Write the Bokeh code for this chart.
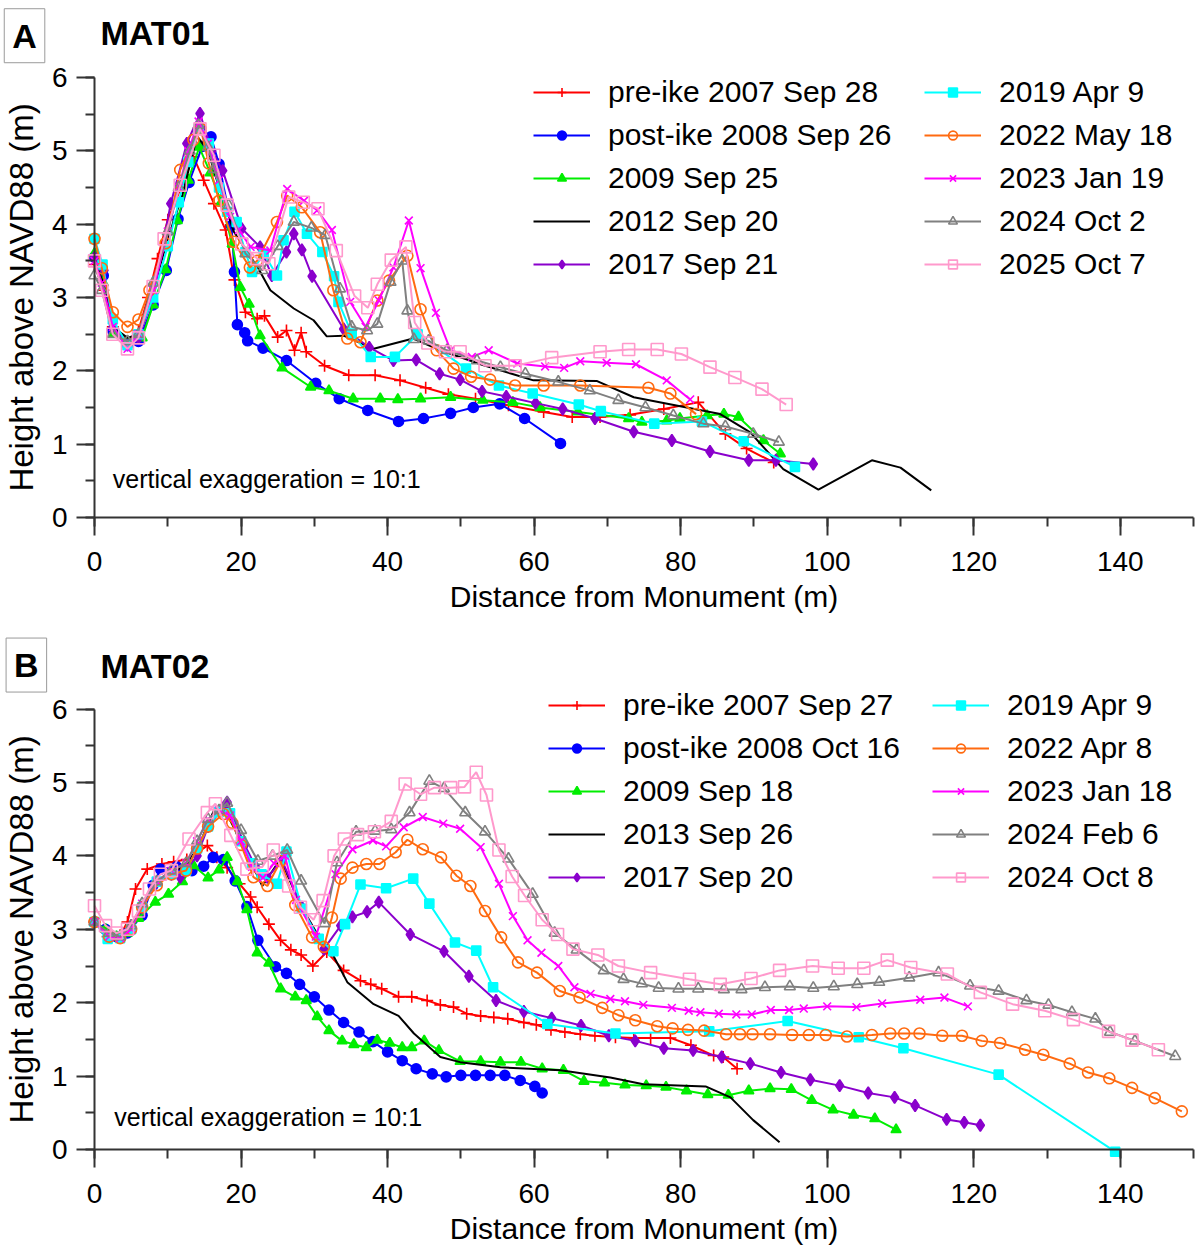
from bokeh.plotting import figure
from bokeh.models import Range1d, Legend, LegendItem, Label
from bokeh.layouts import column
from bokeh.embed import file_html
from bokeh.resources import INLINE

FONT = "Liberation Sans"

# ---------------- Panel A : MAT01 ----------------
A_labels = ["pre-ike 2007 Sep 28", "post-ike 2008 Sep 26", "2009 Sep 25", "2012 Sep 20",
            "2017 Sep 21", "2019 Apr 9", "2022 May 18", "2023 Jan 19", "2024 Oct 2", "2025 Oct 7"]

A_red = [(0,3.45),(1.2,3.1),(2.5,2.6),(4.5,2.4),(6,2.55),(7.3,3.0),(8.6,3.53),(10,4.06),(11.8,4.5),
         (13.5,4.92),(14.9,4.6),(16.3,4.28),(17.9,3.92),(19.1,3.24),(20.6,2.8),(22.2,2.71),(23.2,2.75),
         (25,2.46),(26.2,2.55),(27.3,2.28),(28.2,2.52),(28.9,2.26),(31.4,2.07),(34.7,1.94),(38.3,1.94),
         (41.7,1.87),(45.2,1.77),(48.3,1.68),(52,1.62),(56.5,1.53),(61.3,1.44),(65.2,1.37),(69,1.37),
         (73.1,1.4),(77.7,1.48),(82.4,1.57),(86.1,1.14),(89,0.94),(92.7,0.75)]
A_blue = [(0,3.55),(1.2,3.3),(2.5,2.55),(4.5,2.35),(6,2.4),(8,2.9),(9.8,3.37),(11.4,4.07),(12.9,4.57),
          (14.7,5.06),(15.9,5.19),(17,4.82),(18.7,3.98),(19.1,3.35),(19.5,2.63),(20.5,2.52),(20.9,2.41),
          (23,2.31),(26.2,2.14),(30.2,1.83),(33.4,1.62),(37.3,1.46),(41.5,1.31),(44.9,1.35),(48.6,1.42),
          (51.7,1.5),(55.3,1.55),(58.7,1.35),(63.6,1.01)]
A_green = [(0,3.6),(1.2,3.2),(2.5,2.5),(4.5,2.4),(6.5,2.45),(8,2.9),(9.7,3.38),(11.3,4.05),(12.8,4.6),
           (14.3,5.05),(15.8,4.7),(17.3,4.3),(18.8,3.73),(19.9,3.14),(21.1,2.91),(22.6,2.48),(25.6,2.04),
           (29.5,1.78),(32,1.73),(35.3,1.62),(39,1.62),(41.4,1.61),(44.5,1.62),(48.6,1.64),(53,1.6),
           (57.1,1.57),(60.8,1.5),(66,1.44),(72.9,1.35),(74.7,1.3),(78.1,1.32),(79.9,1.35),(83.6,1.39),
           (85.9,1.41),(87.9,1.37),(91.3,1.05),(93.6,0.87)]
A_black = [(0,3.5),(1.2,3.2),(2.5,2.6),(4.5,2.45),(6,2.5),(8,3.1),(10,3.8),(12,4.4),(14,5.2),(15.5,5.0),
           (17,4.5),(19,3.9),(21,3.6),(22.4,3.39),(24,3.1),(27.2,2.85),(29.9,2.69),(31.7,2.47),(34,2.48),
           (38.1,2.3),(43.5,2.44),(47.2,2.28),(53,2.08),(59.9,1.87),(68.6,1.86),(73.6,1.64),(85.4,1.41),
           (89.5,1.16),(94,0.66),(98.8,0.38),(106.1,0.78),(110,0.68),(114.2,0.37)]
A_purple = [(0,3.55),(1.3,3.37),(2.5,2.6),(4.5,2.35),(6,2.45),(8,3.0),(10.4,4.28),(12.6,5.1),(14.4,5.51),
            (16,5.0),(17.5,4.73),(20.1,3.94),(22.6,3.69),(24.2,3.3),(26.2,3.62),(27.2,3.87),(28.3,3.65),
            (29.7,3.29),(34,2.57),(37.5,2.32),(40.8,2.14),(43.9,2.15),(47.1,1.96),(49.9,1.88),(52.9,1.72),
            (56.2,1.65),(60.2,1.56),(63.9,1.48),(68.3,1.35),(73.6,1.17),(78.8,1.05),(84,0.9),(89.3,0.78),
            (93,0.78),(98.1,0.73)]
A_cyan = [(0,3.8),(1.1,3.45),(2.5,2.7),(4.5,2.35),(6,2.5),(8,3.0),(10,3.7),(11.5,4.3),(12.8,4.85),
          (14.2,5.3),(15.6,5.1),(17,4.5),(18.1,4.17),(19.4,4.03),(20.6,3.62),(21.5,3.35),(23.1,3.6),
          (24.9,3.3),(25.8,3.78),(27.3,4.17),(29,3.87),(31.1,3.62),(32.7,3.29),(33.3,2.94),(35.1,2.51),
          (37.7,2.19),(41,2.19),(44.1,2.5),(50.7,2.03),(55.2,1.8),(59.8,1.69),(66.1,1.54),(69.1,1.45),
          (76.4,1.28),(82.9,1.31),(88.6,1.04),(95.6,0.69)]
A_orange = [(0,3.8),(1,3.4),(2.5,2.8),(4.5,2.6),(6,2.7),(7.5,3.1),(9.7,3.74),(11.7,4.74),(13.5,5.15),
            (14.5,5.3),(15.6,4.83),(17,4.32),(19,3.76),(21.2,3.41),(22.2,3.5),(24.9,4.03),(26.3,4.39),
            (28.3,4.23),(30.8,3.89),(32.6,3.1),(34.5,2.44),(36.3,2.39),(38.6,2.96),(40.2,3.23),(42.7,3.57),
            (44.5,2.84),(46.7,2.28),(49,2.03),(51.4,1.92),(54,1.88),(57.4,1.8),(61.3,1.8),(66.3,1.8),
            (75.6,1.77),(78.6,1.69),(82.1,1.41)]
A_magenta = [(0,3.5),(1,3.2),(2.5,2.6),(4.5,2.3),(6,2.5),(8,3.1),(10,3.9),(11.5,4.5),(12.8,5.0),(14.2,5.4),
             (15.5,5.1),(17,4.6),(18.5,4.1),(19.7,3.92),(21.3,3.69),(24,3.64),(26.3,4.48),(28.6,4.32),
             (30.4,4.19),(32.4,3.92),(34.9,2.94),(37,2.6),(38.8,2.96),(40.8,3.41),(42.9,4.05),(44.5,3.4),
             (46.6,2.79),(48.6,2.28),(51.5,2.19),(53.8,2.28),(57.7,2.1),(61.5,2.06),(64.1,2.04),(66.3,2.13),
             (69.9,2.11),(73.9,2.09),(78.1,1.87),(81.3,1.61)]
A_gray = [(0,3.3),(1,3.1),(2.5,2.5),(4.5,2.4),(6,2.5),(8,3.2),(10,3.9),(11.5,4.5),(13,5.0),(14.2,5.35),
          (15.5,5.05),(16.3,4.75),(18.3,4.26),(20.6,3.6),(22.9,3.37),(25,3.7),(27.2,4.03),(29.6,3.95),
          (31.5,3.85),(33.5,3.12),(35.1,2.6),(37.2,2.55),(38.6,2.64),(40.4,3.21),(42,3.5),(42.7,2.82),
          (43.6,2.43),(45.6,2.41),(48.1,2.28),(52.2,2.14),(55.4,2.05),(58.8,1.96),(63.3,1.85),(67.6,1.73),
          (71.5,1.6),(75.2,1.5),(79,1.39),(83.1,1.28),(86.1,1.24),(89.9,1.14),(93.4,1.03)]
A_pink = [(0,3.5),(1,3.1),(2.5,2.5),(4.5,2.3),(6,2.45),(8,3.15),(9.5,3.8),(11.7,4.53),(14.4,5.3),
          (16.3,4.94),(18.1,4.26),(20.1,3.73),(22.2,3.53),(23.8,3.46),(26.5,4.37),(28.5,4.3),(30.5,4.21),
          (33,3.64),(35.5,3.02),(37.3,2.86),(38.6,3.18),(40.5,3.51),(42.5,3.69),(43.7,2.66),(45.5,2.38),
          (47.9,2.26),(49.9,2.26),(53.3,2.07),(57.4,2.07),(62.4,2.18),(69,2.26),(72.9,2.29),(76.8,2.29),
          (80.1,2.23),(84,2.05),(87.4,1.91),(91.1,1.75),(94.4,1.54)]

# ---------------- Panel B : MAT02 ----------------
B_labels = ["pre-ike 2007 Sep 27", "post-ike 2008 Oct 16", "2009 Sep 18", "2013 Sep 26",
            "2017 Sep 20", "2019 Apr 9", "2022 Apr 8", "2023 Jan 18", "2024 Feb 6", "2024 Oct 8"]

B_red = [(0,3.1),(1.8,2.9),(3.5,2.92),(4.5,3.1),(5.6,3.55),(7.2,3.82),(9.2,3.89),(10.8,3.92),(12.6,3.95),
         (15.4,4.14),(16.7,3.98),(18.1,3.84),(19.8,3.62),(21.3,3.44),(22.2,3.3),(23.8,3.07),(25.4,2.85),
         (26.8,2.72),(28.2,2.65),(29.8,2.5),(31.7,2.69),(34,2.44),(36.3,2.3),(37.7,2.25),(39.2,2.19),
         (41.5,2.08),(43.3,2.08),(45.4,2.03),(47.2,1.97),(49,1.94),(50.8,1.85),(52.7,1.82),(54.5,1.8),
         (56.4,1.78),(58.6,1.73),(60.3,1.7),(62.3,1.63),(64.2,1.6),(66.3,1.57),(68.3,1.55),(71.1,1.53),
         (73.6,1.52),(75.9,1.52),(78.6,1.52),(81.4,1.42),(84.5,1.28),(85.8,1.26),(87.7,1.1)]
B_blue = [(0,3.1),(1.5,3.0),(3,2.9),(4.5,2.95),(6.5,3.19),(8,3.6),(9,3.82),(11.2,3.85),(13.3,3.8),
          (14.9,3.86),(16.2,3.98),(17.6,3.95),(19.2,3.66),(20.8,3.31),(22.3,2.85),(24.7,2.49),(26.2,2.4),
          (28,2.25),(30,2.08),(32,1.9),(34,1.73),(36.1,1.6),(38,1.47),(40,1.33),(42,1.21),(43.9,1.1),
          (46.1,1.03),(48,0.99),(50,1.01),(52,1.01),(54,1.01),(56,1.01),(58.1,0.94),(60.1,0.86),(61.1,0.77)]
B_green = [(0,3.1),(1.5,3.0),(3,2.9),(4.5,2.95),(6,3.15),(8.3,3.37),(10.1,3.48),(12,3.65),(13.5,3.87),
           (15.5,3.7),(17,3.81),(18.1,3.98),(19.5,3.65),(20.8,3.27),(22.2,2.68),(23.8,2.54),(25.4,2.19),
           (27.4,2.08),(28.9,2.03),(30.4,1.81),(32,1.62),(33.8,1.48),(35.4,1.43),(37.1,1.39),(38.6,1.49),
           (40.3,1.45),(42,1.39),(43.3,1.39),(45,1.48),(47,1.35),(49.9,1.2),(52.7,1.2),(55.4,1.19),
           (58.2,1.19),(61.1,1.1),(64,1.08),(66.8,0.93),(69.6,0.91),(72.4,0.88),(75.3,0.87),(78,0.85),
           (80.8,0.8),(83.7,0.75),(86.5,0.74),(89.3,0.8),(92.2,0.83),(95.1,0.82),(97.9,0.67),(100.8,0.54),
           (103.6,0.47),(106.5,0.42),(109.4,0.27)]
B_black = [(0,3.1),(2,2.9),(3.5,2.88),(5,3.0),(6.5,3.3),(8.5,3.65),(10.5,3.8),(12.5,3.85),(14.5,4.2),
           (16.3,4.62),(17.6,4.66),(20,4.2),(22.9,3.59),(25.4,3.96),(28,3.35),(31.3,2.78),(32.6,2.64),
           (34.5,2.28),(38.1,1.98),(41.5,1.82),(43.6,1.58),(47.2,1.26),(49.9,1.19),(55.4,1.12),(63.6,1.08),
           (70.4,0.98),(74.9,0.89),(83.4,0.86),(86.8,0.71),(89.9,0.4),(93.5,0.1)]
B_purple = [(0,3.1),(2,2.9),(3.5,2.9),(5,3.05),(6.5,3.3),(8.5,3.65),(10.5,3.75),(11.7,3.71),(14,4.0),
            (15.5,4.4),(17.5,4.65),(18.1,4.73),(20.5,4.15),(22,3.85),(23.6,3.71),(25.6,3.94),(28.3,3.3),
            (31.3,2.73),(33.6,3.05),(35.2,3.17),(37.2,3.24),(38.8,3.37),(43.1,2.93),(47.7,2.7),(51.1,2.36),
            (54.8,2.03),(58.6,1.88),(62.4,1.79),(66.4,1.69),(70.2,1.55),(73.8,1.48),(77.7,1.38),(81.7,1.35),
            (85.6,1.26),(89.5,1.17),(93.7,1.05),(97.7,0.95),(101.7,0.87),(105.6,0.77),(109.2,0.71),
            (112,0.6),(116.3,0.41),(118.7,0.37),(120.9,0.33)]
B_cyan = [(0,3.1),(1.8,2.87),(3.5,2.88),(5,3.0),(6.5,3.3),(8.5,3.65),(10.5,3.75),(12.5,3.8),(14,4.1),
          (15.5,4.4),(17,4.6),(18.5,4.58),(20,4.2),(21.5,3.9),(22.8,3.75),(24.9,3.62),(26.2,4.06),
          (28.3,3.28),(30.6,2.87),(32.6,2.7),(34.2,3.07),(36.3,3.61),(39.8,3.56),(43.5,3.69),(45.7,3.35),
          (49.2,2.82),(52.1,2.71),(54.4,2.21),(61.8,1.71),(71.1,1.58),(83.9,1.61),(94.6,1.75),(104.3,1.53),
          (110.4,1.38),(123.4,1.02),(139.3,-0.03)]
B_orange = [(0,3.1),(2,2.9),(3.5,2.88),(5,3.0),(6.5,3.3),(8.5,3.6),(10.5,3.75),(12.5,3.8),(14,4.1),
            (15.5,4.4),(17.6,4.57),(18.8,4.45),(20,4.15),(21.7,3.71),(23.6,3.59),(25.4,3.93),(27.4,3.33),
            (29.7,2.89),(31.3,2.76),(32.4,3.16),(33.6,3.69),(35.2,3.84),(37.1,3.89),(38.9,3.89),(41.1,4.05),
            (42.7,4.22),(44.8,4.09),(47.3,3.98),(49.4,3.73),(51.3,3.59),(53.3,3.25),(55.5,2.89),(57.8,2.55),
            (60.4,2.41),(63.5,2.16),(66.2,2.07),(69.3,1.93),(71.5,1.83),(73.8,1.76),(76.8,1.68),(78.9,1.65),
            (81,1.63),(83.2,1.62),(86.2,1.57),(88.1,1.57),(89.8,1.57),(92.2,1.57),(95.2,1.56),(97.5,1.56),
            (99.8,1.56),(102.7,1.54),(106.1,1.56),(108.6,1.58),(110.5,1.58),(112.6,1.58),(115.7,1.55),
            (118.4,1.55),(121.1,1.48),(123.6,1.45),(127,1.36),(129.5,1.29),(133.1,1.17),(135.6,1.05),
            (138.5,0.97),(141.6,0.84),(144.7,0.7),(148.4,0.52)]
B_magenta = [(0,3.1),(2,2.9),(3.5,2.88),(5,3.0),(6.5,3.35),(8.5,3.65),(10.5,3.8),(12.5,3.9),(14,4.2),
             (15.5,4.5),(17,4.62),(18.5,4.55),(20,4.2),(21.5,3.85),(23,3.7),(24.5,3.9),(26,4.0),(27.5,3.4),
             (30.2,2.9),(32.9,3.75),(35.2,4.09),(38,4.21),(39.8,4.13),(42.2,4.39),(44.8,4.53),(47.6,4.44),
             (49.9,4.37),(52.7,4.12),(55.2,3.62),(57.1,3.18),(59.1,2.85),(61,2.68),(63.3,2.5),(65.5,2.21),
             (67.7,2.12),(70.4,2.05),(72.4,2.02),(74.9,1.97),(78.8,1.93),(81.1,1.89),(82.7,1.87),(85.2,1.85),
             (87.6,1.84),(89.7,1.84),(92.3,1.9),(94.8,1.9),(96.8,1.92),(100,1.95),(104,1.94),(107.5,1.99),
             (112.7,2.04),(116,2.07),(119.2,1.95)]
B_gray = [(0,3.1),(2,2.95),(3.5,2.9),(5,3.05),(6.5,3.35),(8.5,3.65),(10.5,3.8),(12.5,3.9),(14,4.2),
          (15.5,4.5),(17,4.62),(18.1,4.72),(20,4.35),(22.3,3.93),(24.3,4.0),(26.3,4.08),(28.2,3.66),
          (31.4,3.08),(33.1,3.91),(35.7,4.33),(38.3,4.34),(40.5,4.36),(43,4.59),(45.7,5.02),(47.7,4.92),
          (50.6,4.59),(53.3,4.33),(56.5,3.96),(59.8,3.48),(62.8,2.95),(65.8,2.72),(69.5,2.44),(72.2,2.32),
          (74.7,2.26),(77,2.2),(79.7,2.19),(82.4,2.19),(85.9,2.18),(88.3,2.18),(91.5,2.21),(94.9,2.22),
          (98.1,2.2),(100.9,2.22),(104.1,2.25),(107.1,2.28),(111.2,2.34),(115.2,2.41),(119.5,2.23),
          (123.4,2.16),(127.2,2.03),(130.2,1.97),(133.4,1.87),(136.6,1.78),(138.6,1.6),(142,1.48),(147.5,1.27)]
B_pink = [(0,3.32),(1.5,3.05),(3,2.95),(4.5,3.0),(6,3.25),(7.5,3.55),(9,3.75),(10.5,3.8),(12.9,4.23),
          (15.4,4.59),(16.5,4.71),(18.6,4.28),(20.8,3.82),(22.9,3.85),(24.4,4.08),(26.5,3.59),(28.1,3.3),
          (29.9,3.13),(31.2,3.39),(32.7,4.0),(34.1,4.23),(35.9,4.29),(38.2,4.33),(40.5,4.47),(42.4,4.98),
          (44.5,4.84),(46.4,4.93),(48.6,4.93),(50.5,4.94),(52.1,5.14),(53.5,4.83),(55.2,4.08),(57,3.72),
          (58.7,3.46),(61.1,3.13),(63.2,2.93),(65.3,2.73),(68.7,2.65),(71.5,2.5),(75.9,2.41),(81.2,2.32),
          (85.4,2.25),(89.6,2.33),(93.5,2.44),(98,2.5),(101.5,2.47),(105,2.47),(108.2,2.58),(111.4,2.48),
          (116.4,2.39),(120.9,2.14),(125.3,1.98),(129.7,1.89),(133.6,1.77),(138.4,1.61),(141.6,1.49),(145.2,1.36)]

A_series = [A_red, A_blue, A_green, A_black, A_purple, A_cyan, A_orange, A_magenta, A_gray, A_pink]
B_series = [B_red, B_blue, B_green, B_black, B_purple, B_cyan, B_orange, B_magenta, B_gray, B_pink]

# colour, marker, filled, marker size
STYLES = [("#ff0000", "cross", True, 12),
          ("#0000ff", "circle", True, 10),
          ("#00ee00", "triangle", True, 10),
          ("#000000", None, True, 0),
          ("#8a00cc", "diamond", True, 12),
          ("#00ffff", "square", True, 9),
          ("#ff6a10", "circle", False, 11),
          ("#ff00ff", "x", False, 11),
          ("#808080", "triangle", False, 11),
          ("#ff99cc", "square", False, 12)]

KX = 7.327      # px per metre along x
X0 = 94         # px of x = 0


def make_panel(series, labels, letter, title, height, y0_px, ky, leg_loc, box_xy, title_xy, note_xy):
    # the frame spans the whole figure; both axes are pinned at 0 with fixed_location
    xr = Range1d(-X0 / KX, (1199 - X0) / KX)
    yr = Range1d(-(height - y0_px) / ky, y0_px / ky)
    p = figure(width=1199, height=height, x_range=xr, y_range=yr,
               output_backend="svg", toolbar_location=None,
               min_border_left=0, min_border_right=0, min_border_top=0, min_border_bottom=0)
    p.outline_line_color = None
    p.grid.visible = False
    p.background_fill_color = "white"
    p.border_fill_color = "white"

    xa, ya = p.xaxis[0], p.yaxis[0]
    xa.fixed_location = 0
    ya.fixed_location = 0
    xa.bounds = (0, 150)
    ya.bounds = (0, 6)
    for ax in (xa, ya):
        ax.axis_line_width = 2
        ax.axis_line_color = "#333333"
        ax.major_tick_line_color = "#333333"
        ax.minor_tick_line_color = "#333333"
        ax.major_tick_line_width = 2
        ax.minor_tick_line_width = 2
        ax.major_tick_in = 0
        ax.minor_tick_in = 0
        ax.major_tick_out = 18
        ax.minor_tick_out = 9
        ax.major_label_text_font = FONT
        ax.major_label_text_font_size = "28px"
        ax.major_label_text_color = "black"
        ax.axis_label_text_font = FONT
        ax.axis_label_text_font_style = "normal"
        ax.axis_label_text_color = "black"
    xa.axis_label_text_font_size = "30px"
    ya.axis_label_text_font_size = "33px"
    xa.ticker.desired_num_ticks = 8
    xa.ticker.num_minor_ticks = 2
    ya.ticker.num_minor_ticks = 2
    xa.axis_label = "Distance from Monument (m)"
    ya.axis_label = "Height above NAVD88 (m)"
    xa.major_label_standoff = 16
    ya.major_label_standoff = 9
    xa.axis_label_standoff = 6
    ya.axis_label_standoff = 9

    rends = []
    for pts, (col, mk, filled, sz) in zip(series, STYLES):
        xs = [a for a, b in pts]
        ys = [b for a, b in pts]
        r = [p.line(xs, ys, line_color=col, line_width=2)]
        if mk is not None:
            r.append(p.scatter(xs, ys, marker=mk, size=sz, line_color=col, line_width=1.6,
                               fill_color=col if filled else None))
        rends.append(r)

    leg_common = dict(border_line_color=None, background_fill_alpha=0, padding=0, margin=0,
                      label_text_font=FONT, label_text_font_size="30px", label_text_color="black",
                      glyph_width=57, glyph_height=22, label_height=43, spacing=0, label_standoff=18)
    l1 = Legend(items=[LegendItem(label=labels[i], renderers=rends[i]) for i in range(5)],
                location=leg_loc[0], **leg_common)
    l2 = Legend(items=[LegendItem(label=labels[i], renderers=rends[i]) for i in range(5, 10)],
                location=leg_loc[1], **leg_common)
    p.add_layout(l1)
    p.add_layout(l2)

    p.add_layout(Label(x=box_xy[0], y=box_xy[1], text=letter, text_font=FONT, text_font_size="34px",
                       text_font_style="bold", text_color="black", text_align="center",
                       text_baseline="middle", border_line_color="#9a9a9a", border_line_width=1,
                       padding=8))
    p.add_layout(Label(x=title_xy[0], y=title_xy[1], text=title, text_font=FONT, text_font_size="34px",
                       text_font_style="bold", text_color="black", text_align="left",
                       text_baseline="middle"))
    p.add_layout(Label(x=note_xy[0], y=note_xy[1], text="vertical exaggeration = 10:1", text_font=FONT,
                       text_font_size="25px", text_color="black", text_align="left",
                       text_baseline="middle"))
    return p


pA = make_panel(A_series, A_labels, "A", "MAT01", 623, 517, 73.33,
                [(533, 338), (924, 338)], (-9.55, 6.57), (0.82, 6.61), (2.5, 0.52))
pB = make_panel(B_series, B_labels, "B", "MAT02", 624, 526, 73.4,
                [(548, 349), (932, 349)], (-9.3, 6.6), (0.82, 6.59), (2.7, 0.44))

layout = column(pA, pB)
open("out.html", "w").write(file_html(layout, INLINE))
